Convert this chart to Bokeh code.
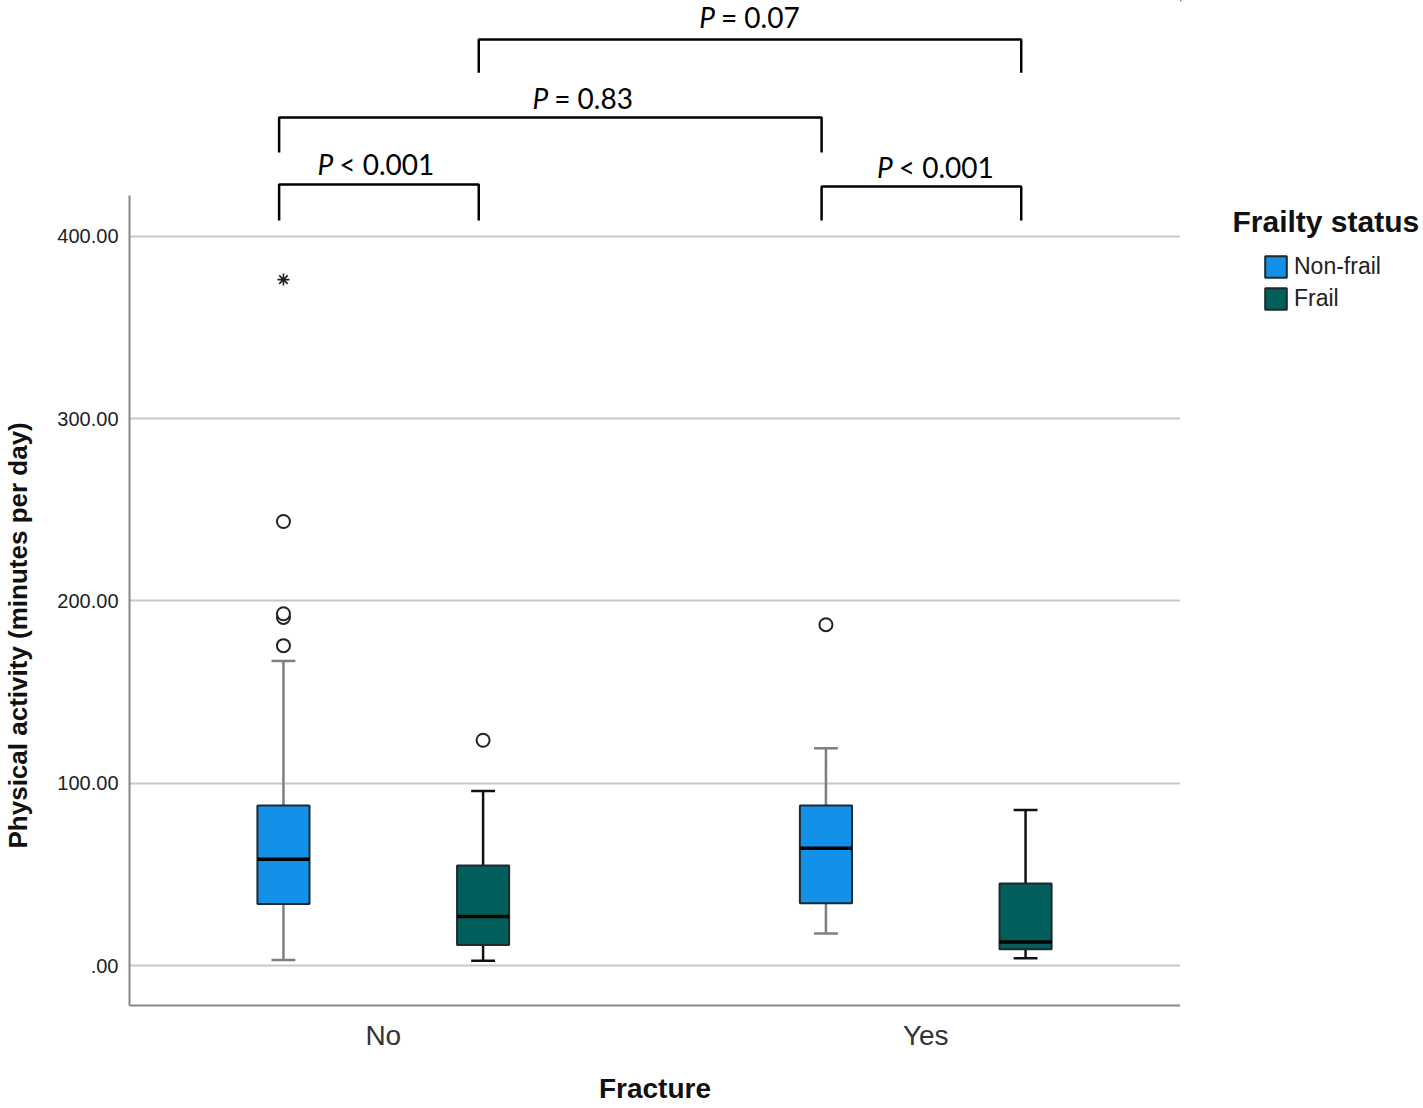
from bokeh.plotting import figure
from bokeh.layouts import row
from bokeh.models import ColumnDataSource, FixedTicker, Legend, LegendItem, Range1d, Title
from bokeh.core.properties import value
from bokeh.embed import file_html
from bokeh.resources import INLINE

# ---------------- data ----------------
categories = ["No", "Yes"]
statuses = ["Non-frail", "Frail"]
status_colors = ["#1390e8", "#025f5b"]
whisker_colors = ["#7f7f7f", "#111111"]

# one entry per box: (No, Non-frail), (No, Frail), (Yes, Non-frail), (Yes, Frail)
box_fracture = ["No", "No", "Yes", "Yes"]
box_status = ["Non-frail", "Frail", "Non-frail", "Frail"]
whisker_low = [3.1, 2.7, 17.6, 4.0]
q1 = [33.8, 11.3, 34.2, 9.0]
median = [58.3, 26.9, 64.4, 13.0]
q3 = [87.8, 54.9, 87.8, 45.0]
whisker_high = [167.1, 95.8, 119.2, 85.4]

outlier_box = [0, 0, 0, 0, 1, 2]
outlier_value = [175.5, 191.0, 193.0, 243.6, 123.6, 187.0]
extreme_box = [0]
extreme_value = [376.3]

y_ticks = [0, 100, 200, 300, 400]
y_tick_labels = [".00", "100.00", "200.00", "300.00", "400.00"]

# significance brackets: left box, right box, bar level, foot level, p text
bracket_left = [0, 0, 1, 2]
bracket_right = [1, 2, 3, 3]
bracket_level = [428.4, 465.2, 508.0, 427.3]
bracket_foot = [408.7, 446.0, 489.8, 408.7]
bracket_sign = ["< 0.001", "= 0.83", "= 0.07", "< 0.001"]
bracket_text_x = [0.9079, 1.3039, 1.6114, 1.9392]
bracket_text_y = [439.9, 476.1, 520.5, 438.3]

# ---------------- geometry ----------------
group_offset = 0.184
box_width = 0.096
cap_width = 0.044
bracket_shift = -0.008
H = 1108
BOTTOM = 103

def box_x(i):
    return categories.index(box_fracture[i]) + 1 + (-group_offset if box_status[i] == statuses[0] else group_offset)

xs = [box_x(i) for i in range(len(box_fracture))]

p = figure(width=1180, height=H, output_backend="svg", toolbar_location=None,
           x_range=Range1d(0.5322, 2.4696), y_range=Range1d(-21.9, 529.4),
           min_border_left=128, min_border_right=0, min_border_top=0,
           min_border_bottom=BOTTOM)
p.outline_line_color = None
p.background_fill_color = "white"
p.xgrid.grid_line_color = None
p.ygrid.grid_line_color = "#c8c8c8"
p.ygrid.grid_line_width = 2

# axes
p.yaxis.ticker = FixedTicker(ticks=y_ticks)
p.yaxis.major_label_overrides = {t: l for t, l in zip(y_ticks, y_tick_labels)}
p.yaxis.bounds = (-21.9, 422.4)
p.xaxis.ticker = FixedTicker(ticks=[1, 2])
p.xaxis.major_label_overrides = {i + 1: c for i, c in enumerate(categories)}
for ax in (p.xaxis[0], p.yaxis[0]):
    ax.axis_line_color = "#888888"
    ax.axis_line_width = 2
    ax.major_tick_line_color = None
    ax.minor_tick_line_color = None
p.yaxis.major_label_text_font = "Liberation Sans"
p.yaxis.major_label_text_font_size = "20px"
p.yaxis.major_label_text_color = "#222222"
p.yaxis.major_label_standoff = 5
# spacer so the rotated title sits at the far left, as in the original
p.yaxis.axis_label = " "
p.yaxis.axis_label_text_font_size = "1px"
p.yaxis.axis_label_standoff = 18
p.xaxis.major_label_text_font = "Liberation Sans"
p.xaxis.major_label_text_font_size = "28px"
p.xaxis.major_label_text_color = "#333333"
p.xaxis.major_label_standoff = 8
p.xaxis.axis_label = "Fracture"
p.xaxis.axis_label_text_font = "Liberation Sans"
p.xaxis.axis_label_text_font_style = "bold"
p.xaxis.axis_label_text_font_size = "28px"
p.xaxis.axis_label_text_color = "#111111"
p.xaxis.axis_label_standoff = 19

p.add_layout(Title(text="Physical activity (minutes per day)", align="left", offset=157,
                   standoff=0, text_font="Liberation Sans", text_font_style="bold",
                   text_font_size="26px", text_color="#111111"), "left")

# boxes
for s_i, status in enumerate(statuses):
    idx = [i for i in range(len(box_status)) if box_status[i] == status]
    src = ColumnDataSource(dict(
        x=[xs[i] for i in idx], low=[whisker_low[i] for i in idx], q1=[q1[i] for i in idx],
        med=[median[i] for i in idx], q3=[q3[i] for i in idx], high=[whisker_high[i] for i in idx],
        cl=[xs[i] - cap_width / 2 for i in idx], cr=[xs[i] + cap_width / 2 for i in idx],
        bl=[xs[i] - box_width / 2 for i in idx], br=[xs[i] + box_width / 2 for i in idx]))
    wc = whisker_colors[s_i]
    p.segment(x0="x", y0="q3", x1="x", y1="high", source=src, line_color=wc, line_width=2.5)
    p.segment(x0="x", y0="low", x1="x", y1="q1", source=src, line_color=wc, line_width=2.5)
    p.segment(x0="cl", y0="high", x1="cr", y1="high", source=src, line_color=wc, line_width=2.5)
    p.segment(x0="cl", y0="low", x1="cr", y1="low", source=src, line_color=wc, line_width=2.5)
    p.vbar(x="x", width=box_width, bottom="q1", top="q3", source=src,
           fill_color=status_colors[s_i], line_color="#1e2a30", line_width=2)
    p.segment(x0="bl", y0="med", x1="br", y1="med", source=src, line_color="black", line_width=3.5)

# outliers
p.scatter(x=[xs[b] for b in outlier_box], y=outlier_value, marker="circle", size=13,
          fill_color="white", line_color="#222222", line_width=2)
p.scatter(x=[xs[b] for b in extreme_box], y=extreme_value, marker="asterisk", size=12,
          line_color="#222222", line_width=1.6)

# significance brackets
for k in range(len(bracket_left)):
    xl = xs[bracket_left[k]] + bracket_shift
    xr = xs[bracket_right[k]] + bracket_shift
    lv, ft = bracket_level[k], bracket_foot[k]
    p.line(x=[xl, xl, xr, xr], y=[ft, lv, lv, ft], line_color="black", line_width=2.5)
p.text(x=bracket_text_x, y=bracket_text_y, text=["P"] * len(bracket_sign),
       text_align="right", text_baseline="middle", text_font=value("Lato"),
       text_font_style="italic", text_font_size="28px", text_color="black")
p.text(x=bracket_text_x, y=bracket_text_y, text=bracket_sign, x_offset=6,
       text_align="left", text_baseline="middle", text_font=value("Lato"),
       text_font_size="28px", text_color="black")

# ---------------- legend panel (pixel-based coordinates) ----------------
QW = 243
FRAME_H = H - BOTTOM
q = figure(width=QW, height=H, output_backend="svg", toolbar_location=None,
           x_range=Range1d(0, QW), y_range=Range1d(FRAME_H, 0),
           x_axis_location=None, y_axis_location=None,
           min_border_left=0, min_border_right=0, min_border_top=0,
           min_border_bottom=BOTTOM)
q.outline_line_color = None
q.grid.grid_line_color = None
q.text(x=[52], y=[221], text=["Frailty status"], text_align="left", text_baseline="middle",
       text_font=value("Liberation Sans"), text_font_style="bold", text_font_size="30px",
       text_color="#111111")
legend_items = []
for s_i, status in enumerate(statuses):
    # legend proxy glyphs, placed outside the visible range
    r = q.vbar(x=[-100], top=[-100], bottom=[-101], width=1, fill_color=status_colors[s_i],
               line_color="#1e2a30", line_width=2)
    legend_items.append(LegendItem(label=status, renderers=[r]))
legend = Legend(items=legend_items, location=(82, FRAME_H - 312), orientation="vertical",
                padding=0, margin=0, spacing=5, glyph_width=27, glyph_height=27,
                label_height=22, label_standoff=5, border_line_color=None,
                background_fill_alpha=0, label_text_font="Liberation Sans",
                label_text_font_size="23px", label_text_color="#222222")
q.add_layout(legend, "center")

open("out.html", "w").write(file_html(row(p, q), INLINE))
